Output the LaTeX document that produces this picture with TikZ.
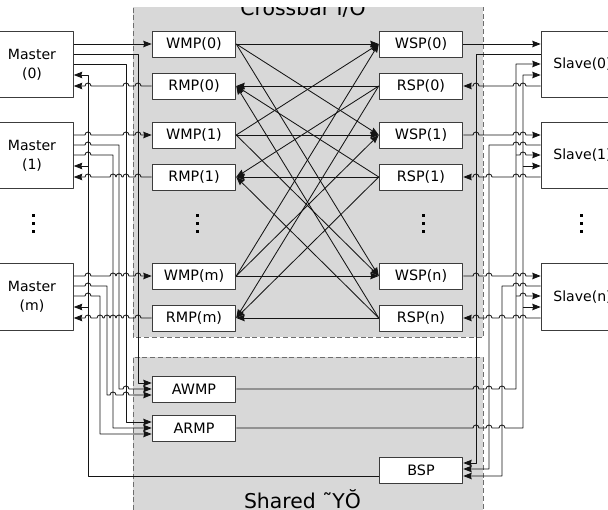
\documentclass[tikz,border=0pt]{standalone}
\usepackage{fontspec}
\setmainfont{DejaVu Sans}
\usetikzlibrary{arrows.meta}

\definecolor{busgray}{RGB}{216,216,216}
\definecolor{dashgray}{RGB}{110,110,110}
\definecolor{edgegray}{RGB}{60,60,60}
\definecolor{wireblack}{RGB}{20,20,20}
\newcommand{\hoprad}{2.13pt}

\tikzset{
  unit/.style={draw=edgegray, fill=white, line width=0.6pt, minimum width=59.5pt,
    minimum height=18.4pt, inner sep=0pt, font=\fontsize{10.2}{12}\selectfont},
  agent/.style={unit, minimum width=58.8pt, minimum height=47.5pt, align=center,
    font=\fontsize{10}{13.5}\selectfont},
  wire/.style={draw=wireblack, line width=0.6pt},
  arrowin/.style={-{Stealth[length=6pt,width=4.6pt,inset=0.6pt]}},
  region/.style={draw=dashgray, dash pattern=on 3.5pt off 2pt, line width=0.5pt},
  title/.style={anchor=base, font=\fontsize{14.5}{14.5}\selectfont}
}

\begin{document}
\begin{tikzpicture}[x=0.025cm, y=-0.025cm, line join=round]
  \useasboundingbox (0,0) rectangle (608,510);
  \clip (0,8) rectangle (608,510);

  % crossbar and shared areas
  \fill[busgray] (133,0) rectangle (483,337);
  \fill[busgray] (133,357) rectangle (483,510);
  \draw[region] (133,0) -- (133,337) -- (483,337) -- (483,0);
  \draw[region] (133,510) -- (133,357) -- (483,357) -- (483,510);
  \node[title] (xbar) at (303,15.5) {Crossbar I/O};
  \node[title] (shared) at (302.5,509) {Shared ˜YŎ};

  % masters and slaves
  \node[agent] (M0) at (32,64.5) {Master\\(0)};
  \node[agent] (M1) at (32,155.5) {Master\\(1)};
  \node[agent] (Mm) at (32,297) {Master\\(m)};
  \node[agent] (S0) at (582.5,64.5) {Slave(0)};
  \node[agent] (S1) at (582.5,155.5) {Slave(1)};
  \node[agent] (Sn) at (582.5,297) {Slave(n)};

  % ports
  \foreach \i/\j/\y in {0/0/0,1/1/91,m/n/232}{
    \node[unit] (WMP\i) at (194,44+\y) {WMP(\i)};
    \node[unit] (RMP\i) at (194,86+\y) {RMP(\i)};
    \node[unit] (WSP\j) at (421,44+\y) {WSP(\j)};
    \node[unit] (RSP\j) at (421,86+\y) {RSP(\j)};
  }
  \node[unit] (AWMP) at (194,389) {AWMP};
  \node[unit] (ARMP) at (194,428) {ARMP};
  \node[unit] (BSP) at (421,470) {BSP};

  % vertical dots
  \foreach \x in {33,197,423,581}
    \foreach \y in {216,224,232}
      \fill (\x-1.5,\y-1.5) rectangle ++(3,3);

  % crossbar
  \foreach \i in {0,1,m}
    \foreach \j in {0,1,n}{
      \draw[wire,arrowin] (WMP\i.east) -- (WSP\j.west);
      \draw[wire,arrowin] (RSP\j.west) -- (RMP\i.east);
    }

  % master (0)
  \draw[wire,arrowin] (M0.east |- WMP0.west) -- (WMP0.west);
  \draw[wire,arrowin] (M0.east |- 0,54) -- (138,54) -- (138,383) -- (AWMP.west |- 0,383);
  \draw[wire,arrowin] (M0.east |- 0,64) -- (126,64) -- (126,422) -- (ARMP.west |- 0,422);
  \draw[wire,arrowin] (RMP0.west) foreach \h in {138,126,88}{ -- (\h+3,86) arc[start angle=0,end angle=180,radius=\hoprad] } -- (M0.east |- RMP0.west);

  % master (1)
  \draw[wire,arrowin] (M1.east |- WMP1.west) foreach \h in {88,126,138}{ -- (\h-3,135) arc[start angle=180,end angle=0,radius=\hoprad] } -- (WMP1.west);
  \draw[wire,arrowin] (M1.east |- 0,145) -- (85,145) arc[start angle=180,end angle=0,radius=\hoprad] -- (119,145) -- (119,389)
    -- (123,389) arc[start angle=180,end angle=0,radius=\hoprad] -- (AWMP.west |- 0,389);
  \draw[wire,arrowin] (M1.east |- 0,155) -- (85,155) arc[start angle=180,end angle=0,radius=\hoprad] -- (113,155) -- (113,428) -- (ARMP.west |- 0,428);
  \draw[wire,arrowin] (RMP1.west) foreach \h in {138,126,119,113,88}{ -- (\h+3,177) arc[start angle=0,end angle=180,radius=\hoprad] } -- (M1.east |- RMP1.west);

  % master (m)
  \draw[wire,arrowin] (Mm.east |- WMPm.west) foreach \h in {88,113,119,126,138}{ -- (\h-3,276) arc[start angle=180,end angle=0,radius=\hoprad] } -- (WMPm.west);
  \draw[wire,arrowin] (Mm.east |- 0,286) -- (85,286) arc[start angle=180,end angle=0,radius=\hoprad] -- (107,286) -- (107,395)
    foreach \h in {113,126}{ -- (\h-3,395) arc[start angle=180,end angle=0,radius=\hoprad] } -- (AWMP.west |- 0,395);
  \draw[wire,arrowin] (Mm.east |- 0,296) -- (85,296) arc[start angle=180,end angle=0,radius=\hoprad] -- (100,296) -- (100,434) -- (ARMP.west |- 0,434);
  \draw[wire,arrowin] (RMPm.west) foreach \h in {138,126,119,113,107,100,88}{ -- (\h+3,318) arc[start angle=0,end angle=180,radius=\hoprad] } -- (Mm.east |- RMPm.west);

  % BSP back to the masters
  \draw[wire,arrowin] (BSP.west |- 0,476) -- (88,476) -- (88,75) -- (M0.east |- 0,75);
  \draw[wire,arrowin] (88,166) -- (M1.east |- 0,166);
  \draw[wire,arrowin] (88,307) -- (Mm.east |- 0,307);

  % slave (0)
  \draw[wire,arrowin] (WSP0.east) -- (S0.west |- WSP0.east);
  \draw[wire,arrowin] (S0.west |- 0,54) -- (476,54) -- (476,463) -- (BSP.east |- 0,463);
  \draw[wire,arrowin] (S0.west |- 0,86) foreach \h in {523,516,476}{ -- (\h+3,86) arc[start angle=0,end angle=180,radius=\hoprad] } -- (RSP0.east);

  % slave (1)
  \draw[wire,arrowin] (WSP1.east) foreach \h in {476,516,523}{ -- (\h-3,135) arc[start angle=180,end angle=0,radius=\hoprad] } -- (S1.west |- WSP1.east);
  \draw[wire,arrowin] (S1.west |- 0,145) foreach \h in {523,516}{ -- (\h+3,145) arc[start angle=0,end angle=180,radius=\hoprad] } -- (489,145) -- (489,469) -- (BSP.east |- 0,469);
  \draw[wire,arrowin] (S1.west |- 0,177) foreach \h in {523,516,489,476}{ -- (\h+3,177) arc[start angle=0,end angle=180,radius=\hoprad] } -- (RSP1.east);

  % slave (n)
  \draw[wire,arrowin] (WSPn.east) foreach \h in {476,489,516,523}{ -- (\h-3,276) arc[start angle=180,end angle=0,radius=\hoprad] } -- (Sn.west |- WSPn.east);
  \draw[wire,arrowin] (Sn.west |- 0,286) foreach \h in {523,516}{ -- (\h+3,286) arc[start angle=0,end angle=180,radius=\hoprad] } -- (502,286) -- (502,476) -- (BSP.east |- 0,476);
  \draw[wire,arrowin] (Sn.west |- 0,318) foreach \h in {523,516,502,489,476}{ -- (\h+3,318) arc[start angle=0,end angle=180,radius=\hoprad] } -- (RSPn.east);

  % AWMP and ARMP out to the slaves
  \draw[wire,arrowin] (AWMP.east) foreach \h in {476,489,502}{ -- (\h-3,389) arc[start angle=180,end angle=0,radius=\hoprad] } -- (516,389) -- (516,64) -- (S0.west |- 0,64);
  \draw[wire,arrowin] (516,155) -- (520,155) arc[start angle=180,end angle=0,radius=\hoprad] -- (S1.west |- 0,155);
  \draw[wire,arrowin] (516,296) -- (520,296) arc[start angle=180,end angle=0,radius=\hoprad] -- (Sn.west |- 0,296);
  \draw[wire,arrowin] (ARMP.east) foreach \h in {476,489,502}{ -- (\h-3,428) arc[start angle=180,end angle=0,radius=\hoprad] } -- (523,428) -- (523,75) -- (S0.west |- 0,75);
  \draw[wire,arrowin] (523,166) -- (S1.west |- 0,166);
  \draw[wire,arrowin] (523,307) -- (Sn.west |- 0,307);
\end{tikzpicture}
\end{document}
